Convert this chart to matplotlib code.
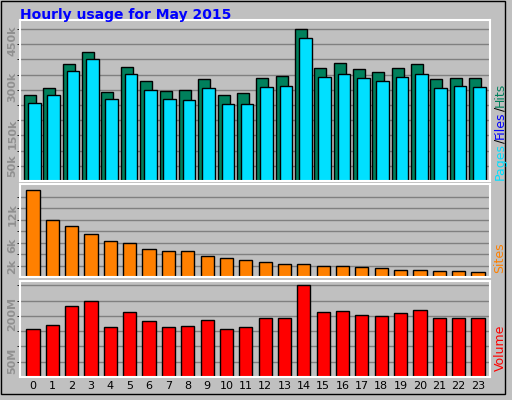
import matplotlib
matplotlib.use("Agg")
import matplotlib.pyplot as plt
import numpy as np

hours = list(range(24))
# values (thousands / millions)
hits = [275, 298, 374, 413, 285, 365, 320, 288, 291, 326, 275, 282, 330, 336, 486, 362, 378, 358, 349, 362, 374, 326, 330, 330]
files = [250, 275, 352, 390, 262, 342, 291, 262, 259, 298, 246, 246, 301, 304, 458, 333, 342, 330, 320, 333, 342, 298, 304, 301]
sites = [16.7, 11.0, 9.7, 8.2, 6.8, 6.5, 5.3, 4.9, 4.9, 4.0, 3.6, 3.2, 2.9, 2.5, 2.5, 2.1, 2.1, 1.9, 1.7, 1.3, 1.3, 1.1, 1.1, 0.95]
volume = [154, 166, 224, 243, 160, 205, 179, 160, 163, 182, 154, 160, 186, 189, 291, 205, 211, 198, 195, 202, 214, 186, 186, 186]

W, H = 512, 400
fig = plt.figure(figsize=(W / 100, H / 100), dpi=100, facecolor="#c0c0c0")
BG = "#c0c0c0"

def pax(x0, y0, x1, y1):
    ax = fig.add_axes([x0 / W, 1 - y1 / H, (x1 - x0) / W, (y1 - y0) / H], facecolor=BG)
    ax.set_xlim(-0.67, 23.62)
    for s in ax.spines.values():
        s.set_color("white")
        s.set_linewidth(1.5)
    ax.set_xticks([])
    ax.tick_params(axis="y", length=0, labelsize=8, labelcolor="#909090", pad=2)
    ax.set_axisbelow(True)
    return ax

# frame
fig.patches.append(plt.Rectangle((1 / W, 6 / H), 504 / W, 393 / H, transform=fig.transFigure,
                                 fill=False, edgecolor="black", lw=1))
fig.text(20 / W, 1 - 15 / H, "Hourly usage for May 2015", color="#0000ff", fontsize=10,
         fontweight="bold", va="center")

x = np.array(hours)

# top
ax1 = pax(20, 20, 490, 181)
ax1.set_ylim(0, 515)
ax1.set_yticks(np.arange(1, 11) * 48.6, minor=True)
ax1.grid(True, which="minor", axis="y", color="#808080", lw=1)
ax1.bar(x - 0.15, hits, width=0.62, color="#00805c", edgecolor="black", lw=1)
ax1.bar(x + 0.07, files, width=0.65, color="#00e0ff", edgecolor="black", lw=1)
ax1.set_yticks([50, 150, 300, 450])
ax1.set_yticklabels(["50k", "150k", "300k", "450k"], rotation=90, va="center", fontweight="bold")

# middle
ax2 = pax(20, 184, 490, 277)
ax2.set_ylim(0, 17.8)
ax2.set_yticks(np.arange(1, 8) * 2.2, minor=True)
ax2.grid(True, which="minor", axis="y", color="#808080", lw=1)
ax2.bar(x, sites, width=0.68, color="#ff8000", edgecolor="black", lw=1)
ax2.set_yticks([2, 6, 12])
ax2.set_yticklabels(["2k", "6k", "12k"], rotation=90, va="center", fontweight="bold")

# bottom
ax3 = pax(20, 281, 490, 377)
ax3.set_ylim(0, 305)
ax3.set_yticks(np.arange(1, 7) * 48.6, minor=True)
ax3.grid(True, which="minor", axis="y", color="#808080", lw=1)
ax3.bar(x, volume, width=0.68, color="#ff0000", edgecolor="black", lw=1)
ax3.set_yticks([50, 200])
ax3.set_yticklabels(["50M", "200M"], rotation=90, va="center", fontweight="bold")
ax3.set_xticks(hours)
ax3.set_xticklabels([str(h) for h in hours], fontsize=8)
ax3.tick_params(axis="x", length=0, pad=3)

# right labels (stacked bottom-to-top)
def rtext(y, s, c):
    fig.text(500 / W, 1 - y / H, s, color=c, rotation=90, fontsize=9, va="center", ha="center")

rtext(162, "Pages", "#00e0ff")
rtext(141, "/", "#000000")
rtext(125, "Files", "#0000ff")
rtext(109, "/", "#000000")
rtext(95, "Hits", "#00805c")
rtext(258, "Sites", "#ff8000")
rtext(348, "Volume", "#ff0000")

fig.savefig("out.png", dpi=100, facecolor=fig.get_facecolor())
